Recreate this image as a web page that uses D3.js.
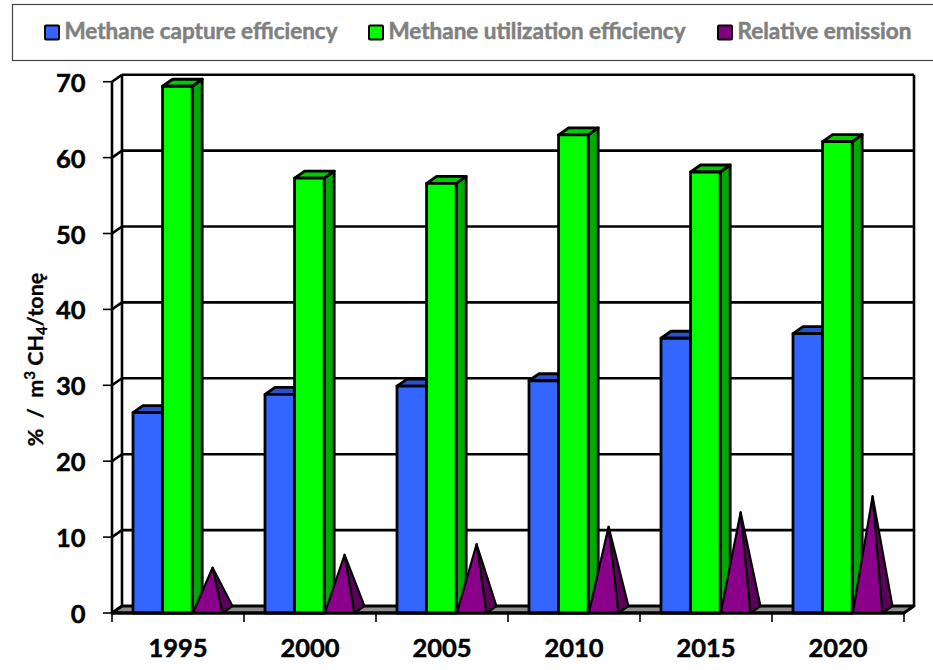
<!DOCTYPE html>
<html>
<head>
<script src="https://d3js.org/d3.v7.min.js"></script>
<style>
  body { margin: 0; background: #fff; }
  svg { display: block; font-family: Lato, "Open Sans", sans-serif; font-weight: 700; }
</style>
</head>
<body>
<script>
var years = ['1995', '2000', '2005', '2010', '2015', '2020'];
var captureEff = [26.4, 28.8, 29.9, 30.6, 36.2, 36.8];
var utilizationEff = [69.4, 57.3, 56.6, 63.0, 58.1, 62.1];
var relativeEmission = [5.5, 7.2, 8.6, 10.9, 12.8, 14.9];
var legendNames = ['Methane capture efficiency', 'Methane utilization efficiency', 'Relative emission'];
var yTicks = [0, 10, 20, 30, 40, 50, 60, 70];

var w = 933, h = 670;
var dx = 10, dy = -7;      // 3d depth offset
var pad = 21, barW = 29.6;

var svg = d3.select('body').append('svg').attr('width', w).attr('height', h);

var x = d3.scaleBand().domain(years).range([112, 904]);
var y = d3.scaleLinear().domain([0, 70]).range([613, 81.7]);
var base = y(0);

function poly(pts, fill, sw) {
    return svg.append('polygon')
        .attr('points', pts.map(function (p) { return p.join(','); }).join(' '))
        .attr('fill', fill)
        .attr('stroke', '#000')
        .attr('stroke-width', sw || 2.8)
        .attr('stroke-linejoin', 'round');
}
function line(x1, y1, x2, y2, sw) {
    svg.append('line').attr('x1', x1).attr('y1', y1).attr('x2', x2).attr('y2', y2)
        .attr('stroke', '#000').attr('stroke-width', sw || 2.6);
}

// legend frame, runs off the right edge
svg.append('rect').attr('x', 12.5).attr('y', 4.5).attr('width', 960).attr('height', 56)
    .attr('fill', '#fff').attr('stroke', '#444').attr('stroke-width', 1.2);

var legendColors = ['#3366ff', '#00ff00', '#800080'];
var legendX = [45, 369, 718];
var legendLen = [273, 297, 174];
legendNames.forEach(function (name, i) {
    svg.append('rect').attr('x', legendX[i]).attr('y', 25.5).attr('width', 14).attr('height', 14)
        .attr('rx', 1).attr('fill', legendColors[i]).attr('stroke', '#000').attr('stroke-width', 2);
    svg.append('text').attr('x', legendX[i] + 19.5).attr('y', 39)
        .attr('font-size', 22).attr('fill', '#808080')
        .attr('stroke', '#808080').attr('stroke-width', 0.5)
        .attr('textLength', legendLen[i]).attr('lengthAdjust', 'spacingAndGlyphs')
        .text(name);
});

// floor
poly([[x.range()[0], base], [x.range()[1], base], [x.range()[1] + dx, base + dy], [x.range()[0] + dx, base + dy]], '#8c8c8c');

// back wall gridlines and left wall
yTicks.forEach(function (t) {
    if (t > 0) line(x.range()[0] + dx, y(t) + dy, x.range()[1] + dx, y(t) + dy);
    line(x.range()[0], y(t), x.range()[0] + dx, y(t) + dy);
    line(x.range()[0] - 9, y(t), x.range()[0], y(t), 1.6);
});
line(x.range()[0] + dx, y(70) + dy, x.range()[0] + dx, base + dy);
line(x.range()[1] + dx, y(70) + dy, x.range()[1] + dx, base + dy);
line(x.range()[0], y(70), x.range()[0], base);

// bars and pyramids
function box(x0, val, front, top, side) {
    var yt = y(val);
    poly([[x0 + barW, base], [x0 + barW + dx, base + dy], [x0 + barW + dx, yt + dy], [x0 + barW, yt]], side);
    poly([[x0, yt], [x0 + dx, yt + dy], [x0 + barW + dx, yt + dy], [x0 + barW, yt]], top);
    poly([[x0, base], [x0, yt], [x0 + barW, yt], [x0 + barW, base]], front);
}
function pyramid(x0, val) {
    var apex = [x0 + barW / 2 + dx / 2, y(val) + dy / 2];
    poly([[x0 + barW, base], [x0 + barW + dx, base + dy], apex], '#5c005c', 2.2);
    poly([[x0, base], [x0 + barW, base], apex], '#8b008b', 2.2);
}
years.forEach(function (yr, i) {
    var x0 = x(yr) + pad;
    box(x0, captureEff[i], '#3366ff', '#2a52cc', '#1f3d99');
    box(x0 + barW, utilizationEff[i], '#00ff00', '#00cc00', '#00aa00');
    pyramid(x0 + 2 * barW + 0.6, relativeEmission[i]);
});

// front baseline and x ticks
line(x.range()[0], base, x.range()[1], base, 2.8);
years.concat(['end']).forEach(function (yr, i) {
    var tx = x.range()[0] + i * x.step();
    line(tx, base, tx, base + 9, 1.6);
});

// tick labels
svg.selectAll('.ylab').data(yTicks).enter().append('text')
    .attr('class', 'ylab').attr('x', 85.5).attr('y', function (d) { return y(d) + 10; })
    .attr('text-anchor', 'end').attr('font-size', 25.5).attr('fill', '#000')
    .attr('stroke', '#000').attr('stroke-width', 0.5)
    .text(function (d) { return d; });
svg.selectAll('.xlab').data(years).enter().append('text')
    .attr('class', 'xlab').attr('x', function (d) { return x(d) + x.step() / 2; }).attr('y', 657)
    .attr('text-anchor', 'middle').attr('font-size', 25.5).attr('fill', '#000')
    .attr('stroke', '#000').attr('stroke-width', 0.5)
    .text(function (d) { return d; });

// axis title
var title = svg.append('text')
    .attr('transform', 'translate(43,359.5) rotate(-90)')
    .attr('text-anchor', 'middle').attr('font-size', 21.5).attr('fill', '#000')
    .attr('stroke', '#000').attr('stroke-width', 0.3);
title.append('tspan').text('%\u00a0\u00a0/\u00a0\u00a0m');
title.append('tspan').attr('font-size', 15).attr('dy', -8).text('3');
title.append('tspan').attr('dy', 8).text('\u00a0CH');
title.append('tspan').attr('font-size', 15).attr('dy', 4).text('4');
title.append('tspan').attr('dy', -4).text('/tonę');
</script>
</body>
</html>
